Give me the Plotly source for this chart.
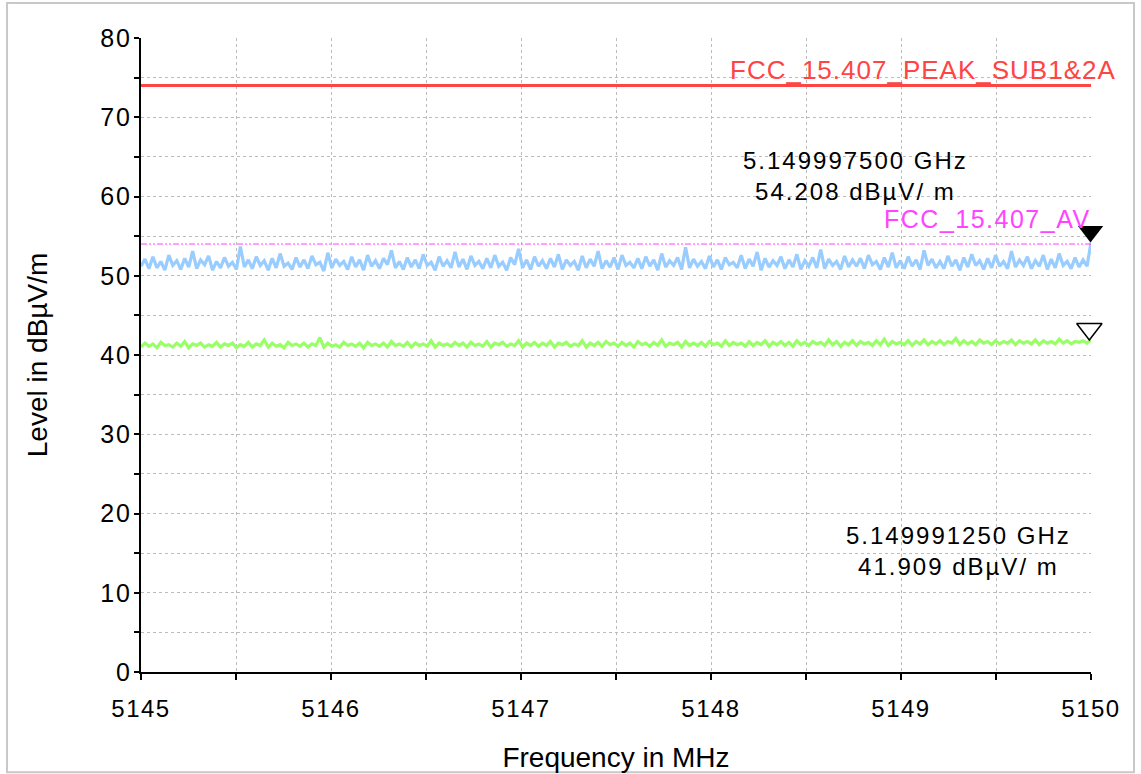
import numpy as np
import plotly.graph_objects as go

# ---------------- data ----------------
f_start, f_stop = 5145.0, 5150.0

peak_trace = [
    51.2, 52.1, 50.9, 52.4, 51.0, 51.8, 50.7, 52.6, 51.3, 51.9, 50.8, 52.2, 51.1, 53.1, 50.9, 52.0, 51.4, 52.5, 50.7, 51.8,
    51.0, 52.3, 51.2, 51.7, 50.8, 53.7, 51.1, 52.0, 50.9, 52.4, 51.3, 51.9, 50.7, 52.2, 51.0, 52.8, 51.2, 51.6, 50.8, 52.3,
    51.1, 52.0, 50.9, 52.5, 51.4, 51.7, 50.6, 52.9, 51.0, 52.1, 51.3, 51.8, 50.8, 52.4, 51.1, 52.0, 50.7, 52.6, 51.2, 51.9,
    50.9, 52.2, 51.4, 53.2, 51.0, 51.8, 50.8, 52.3, 51.1, 52.0, 50.9, 52.7, 51.3, 51.7, 50.7, 52.4, 51.2, 51.9, 51.0, 53.0,
    51.1, 52.1, 50.8, 52.5, 51.3, 51.8, 50.9, 52.2, 51.0, 52.6, 51.2, 51.7, 50.7, 52.3, 51.4, 53.4, 51.0, 52.0, 50.8, 52.4,
    51.2, 51.9, 50.9, 52.2, 51.1, 52.7, 50.8, 52.0, 51.3, 51.8, 50.7, 52.5, 51.0, 52.1, 51.2, 53.1, 50.9, 51.9, 51.1, 52.3,
    50.8, 52.6, 51.3, 51.7, 51.0, 52.2, 50.9, 52.4, 51.2, 52.0, 50.7, 52.8, 51.1, 51.9, 51.3, 52.3, 50.8, 53.6, 51.0, 52.1,
    51.2, 51.8, 50.9, 52.5, 51.1, 52.0, 50.8, 52.3, 51.4, 51.7, 51.0, 52.6, 50.9, 52.1, 51.2, 53.0, 50.7, 52.2, 51.1, 51.9,
    51.3, 52.4, 50.9, 52.0, 51.1, 52.7, 50.8, 51.9, 51.2, 52.3, 51.0, 53.3, 50.9, 52.1, 51.3, 51.8, 50.8, 52.5, 51.1, 52.0,
    51.2, 52.2, 50.9, 52.6, 51.4, 51.8, 50.8, 52.3, 51.1, 52.9, 51.0, 51.9, 50.9, 52.4, 51.2, 52.0, 50.8, 53.2, 51.3, 52.1,
    51.0, 51.8, 50.9, 52.5, 51.2, 52.0, 50.7, 52.3, 51.1, 52.7, 51.3, 51.9, 50.8, 52.2, 51.0, 52.6, 51.2, 51.8, 50.9, 53.1,
    51.1, 52.0, 51.3, 52.4, 50.9, 51.9, 51.2, 52.6, 50.8, 52.1, 51.0, 52.8, 51.3, 51.8, 50.9, 52.3, 51.1, 52.0, 51.2, 54.2,
]

avg_trace = [
    41.0, 41.5, 41.1, 41.4, 40.9, 41.6, 41.2, 41.3, 41.0, 41.5, 41.1, 41.7, 40.9, 41.4, 41.2, 41.5, 41.0, 41.3, 41.1, 41.6,
    41.0, 41.4, 41.2, 41.5, 40.9, 41.3, 41.1, 41.6, 41.0, 41.4, 41.2, 41.9, 41.0, 41.5, 41.1, 41.3, 40.9, 41.6, 41.2, 41.4,
    41.1, 41.5, 41.0, 41.4, 41.2, 42.2, 41.0, 41.5, 41.1, 41.3, 41.0, 41.6, 41.2, 41.4, 41.1, 41.5, 40.9, 41.6, 41.2, 41.4,
    41.1, 41.5, 41.0, 41.7, 41.2, 41.4, 41.1, 41.6, 41.0, 41.5, 41.2, 41.4, 41.1, 41.8, 41.0, 41.5, 41.2, 41.4, 41.1, 41.6,
    41.2, 41.5, 41.0, 41.6, 41.2, 41.4, 41.1, 41.7, 41.0, 41.5, 41.3, 41.6, 41.1, 41.4, 41.2, 41.8, 41.0, 41.5, 41.2, 41.6,
    41.1, 41.5, 41.2, 41.7, 41.0, 41.5, 41.3, 41.6, 41.1, 41.4, 41.2, 41.8, 41.0, 41.5, 41.2, 41.6, 41.1, 41.7, 41.3, 41.5,
    41.1, 41.6, 41.2, 41.5, 41.0, 41.7, 41.3, 41.5, 41.1, 41.6, 41.2, 41.9, 41.1, 41.5, 41.3, 41.6, 41.0, 41.7, 41.2, 41.5,
    41.2, 41.6, 41.1, 41.7, 41.3, 41.5, 41.1, 41.8, 41.2, 41.6, 41.3, 41.5, 41.1, 41.7, 41.2, 41.6, 41.3, 41.8, 41.1, 41.6,
    41.3, 41.7, 41.2, 41.6, 41.1, 41.8, 41.3, 41.6, 41.2, 41.7, 41.4, 41.6, 41.2, 41.9, 41.3, 41.7, 41.1, 41.6, 41.3, 41.8,
    41.2, 41.7, 41.4, 41.6, 41.2, 41.8, 41.3, 42.0, 41.2, 41.7, 41.4, 41.6, 41.3, 41.8, 41.2, 41.7, 41.4, 41.9, 41.3, 41.7,
    41.4, 41.8, 41.3, 41.7, 41.5, 42.1, 41.3, 41.8, 41.4, 41.7, 41.3, 41.9, 41.5, 41.7, 41.3, 41.8, 41.4, 41.7, 41.5, 41.9,
    41.3, 41.8, 41.5, 41.7, 41.4, 41.9, 41.3, 41.8, 41.5, 41.7, 41.4, 42.0, 41.5, 41.8, 41.4, 41.7, 41.6, 41.8, 41.5, 41.9,
]

peak_limit = 74.0
avg_limit = 54.0
peak_limit_label = "FCC_15.407_PEAK_SUB1&2A"
avg_limit_label = "FCC_15.407_AV"

marker1_f, marker1_v = 5149.9975, 54.208
marker2_f, marker2_v = 5149.99125, 41.909
marker1_lines = ["5.149997500 GHz", "54.208 dBµV/ m"]
marker2_lines = ["5.149991250 GHz", "41.909 dBµV/ m"]

x_tick_vals = [5145, 5146, 5147, 5148, 5149, 5150]
y_tick_vals = [0, 10, 20, 30, 40, 50, 60, 70, 80]

x_title = "Frequency in MHz"
y_title = "Level in dBµV/m"

freq_peak = np.linspace(f_start, f_stop, len(peak_trace))
freq_avg = np.linspace(f_start, f_stop, len(avg_trace))

FONT = "Liberation Sans, Arial, sans-serif"


def spaced(s, px):
    return '<span style="letter-spacing:%spx">%s</span>' % (px, s)


fig = go.Figure()

fig.add_trace(go.Scatter(x=freq_peak, y=peak_trace, mode="lines",
                         line=dict(color="#99ccff", width=3.2), hoverinfo="skip"))
fig.add_trace(go.Scatter(x=freq_avg, y=avg_trace, mode="lines",
                         line=dict(color="#99ff66", width=3.2), hoverinfo="skip"))
fig.add_trace(go.Scatter(x=[f_start, f_stop], y=[avg_limit, avg_limit], mode="lines",
                         line=dict(color="#ff44ff", width=1, dash="6px,2px,2px,2px,2px,2px")))
fig.add_trace(go.Scatter(x=[f_start, f_stop], y=[peak_limit, peak_limit], mode="lines",
                         line=dict(color="#ff4444", width=3)))

# marker triangles (tip at the measured point)
tri_off = 1.38
fig.add_trace(go.Scatter(x=[marker1_f], y=[marker1_v + tri_off], mode="markers",
                         marker=dict(symbol="triangle-down", size=22, color="black"),
                         cliponaxis=False))
fig.add_trace(go.Scatter(x=[marker2_f], y=[marker2_v + tri_off], mode="markers",
                         marker=dict(symbol="triangle-down-open", size=22, color="black",
                                     line=dict(width=1.5, color="black")),
                         cliponaxis=False))

ann_font = dict(family=FONT, size=24, color="black")
fig.add_annotation(x=0.7526, y=0.783, xref="paper", yref="paper",
                   text="<br>".join(spaced(s, 2) for s in marker1_lines),
                   showarrow=False, font=ann_font, align="center",
                   xanchor="center", yanchor="middle")
fig.add_annotation(x=0.86, y=0.1915, xref="paper", yref="paper",
                   text="<br>".join(spaced(s, 2) for s in marker2_lines),
                   showarrow=False, font=ann_font, align="center",
                   xanchor="center", yanchor="middle")
fig.add_annotation(x=1.0284, y=0.9495, xref="paper", yref="paper",
                   text=spaced(peak_limit_label, 1),
                   showarrow=False, xanchor="right", yanchor="middle",
                   font=dict(family=FONT, size=26, color="#ff4444"))
fig.add_annotation(x=1.002, y=0.7145, xref="paper", yref="paper",
                   text=spaced(avg_limit_label, 1.5),
                   showarrow=False, xanchor="right", yanchor="middle",
                   font=dict(family=FONT, size=25, color="#ff44ff"))

# outer light border
fig.add_shape(type="rect", xref="paper", yref="paper",
              x0=-0.141, x1=1.0453, y0=-0.158, y1=1.0554,
              line=dict(color="#c8c8c8", width=2), layer="below")

grid_kw = dict(showgrid=True, gridcolor="#bcbcbc", gridwidth=1, griddash="dot")

fig.update_xaxes(range=[f_start, f_stop], tickmode="array", tickvals=x_tick_vals,
                 ticktext=[spaced(v, 1.5) for v in x_tick_vals],
                 ticks="outside", ticklen=6,
                 tickwidth=1.5, tickcolor="black", showline=True, linecolor="black", linewidth=2,
                 zeroline=False, tickfont=dict(family=FONT, size=24, color="black"),
                 ticklabelstandoff=8,
                 minor=dict(dtick=0.5, ticks="outside", ticklen=6, tickcolor="black",
                            tickwidth=1.5, **grid_kw),
                 title=dict(text=x_title, font=dict(family=FONT, size=28, color="black"),
                            standoff=27),
                 **grid_kw)
fig.update_yaxes(range=[0, 80], tickmode="array", tickvals=y_tick_vals,
                 ticktext=[spaced(v, 2) for v in y_tick_vals],
                 ticks="outside", ticklen=5, tickwidth=1.5,
                 tickcolor="black", showline=True, linecolor="black", linewidth=2,
                 zeroline=False, tickfont=dict(family=FONT, size=25, color="black"),
                 ticklabelstandoff=-3,
                 minor=dict(dtick=5, ticks="outside", ticklen=5, tickcolor="black",
                            tickwidth=1.5, **grid_kw),
                 title=dict(text=y_title, font=dict(family=FONT, size=28, color="black"),
                            standoff=44),
                 **grid_kw)

fig.update_layout(width=1141, height=774, showlegend=False,
                  margin=dict(l=141, r=50, t=38, b=102, autoexpand=False),
                  plot_bgcolor="white", paper_bgcolor="white",
                  font=dict(family=FONT))

fig.write_html("out.html", config={"displayModeBar": False},
               post_script="document.body.style.margin='0px';")
